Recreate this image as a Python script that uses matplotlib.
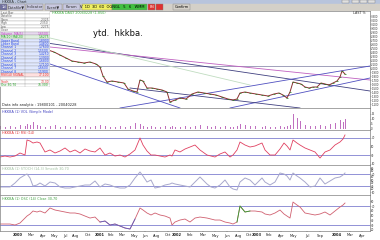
import matplotlib
matplotlib.use("Agg")
import matplotlib.pyplot as plt
from matplotlib.patches import Rectangle

W, H = 380, 240

# ---------------- data ----------------
price_t = [0, 6, 12, 18, 24, 30, 36, 42, 48, 54, 60, 66, 72, 78, 84, 90, 96, 100, 103, 107,
           112, 118, 124, 128, 133, 137, 140, 143, 147, 152, 157, 162, 167, 170, 175, 180,
           186, 192, 198, 204, 210, 216, 222, 228, 233, 237, 240, 245, 250, 256, 262, 268,
           274, 279, 283, 287, 290, 293, 297, 301, 305, 309, 313, 317, 321, 325, 329, 333,
           337, 340, 342, 345]
price_close = [2.650, 2.600, 2.625, 2.550, 2.575, 2.525, 2.550, 2.500, 2.450, 2.400, 2.325,
               2.250, 2.175, 2.150, 2.125, 2.150, 2.100, 2.025, 1.800, 1.650, 1.675, 1.650,
               1.625, 1.475, 1.425, 1.400, 1.700, 1.675, 1.500, 1.500, 1.475, 1.450, 1.400,
               1.150, 1.200, 1.250, 1.225, 1.350, 1.400, 1.375, 1.350, 1.325, 1.275, 1.225,
               1.200, 1.225, 1.375, 1.400, 1.375, 1.350, 1.325, 1.300, 1.350, 1.375, 1.325,
               1.250, 1.400, 1.650, 1.625, 1.600, 1.525, 1.500, 1.525, 1.525, 1.625, 1.600,
               1.575, 1.625, 1.675, 1.775, 1.925, 1.850]

# trend lines: (t0, p0, t1, p1, colour)
trend_lines = [
    (0, 2.800, 370, 1.425, "#404080"),
    (50, 2.525, 370, 1.700, "#c060c0"),
    (50, 2.100, 180, 1.000, "#5050c0"),
    (120, 1.000, 370, 2.050, "#5050c0"),
    (230, 1.000, 370, 1.750, "#5050c0"),
    (130, 1.500, 300, 1.000, "#404080"),
    (50, 2.750, 250, 1.575, "#c0dcc0"),
]
resistance = 2.05

ind_t = [0, 5, 10, 15, 20, 25, 27, 30, 33, 37, 40, 45, 50, 55, 60, 65, 70, 75, 80, 85,
         90, 95, 100, 105, 110, 115, 120, 125, 130, 135, 140, 143, 147, 151, 155, 160, 165,
         170, 172, 175, 180, 185, 190, 195, 200, 207, 211, 215, 220, 225, 230, 233, 237, 240,
         245, 250, 255, 262, 265, 270, 275, 280, 284, 287, 290, 293, 297, 300, 305, 310, 315,
         320, 325, 330, 335, 340, 343, 345]

volume = [3, 2, 3, 2, 4, 3, 5, 4, 7, 4, 3, 2, 3, 4, 2, 3, 2, 3, 2, 3, 2, 3, 4, 3, 2, 2, 3,
          2, 3, 6, 5, 3, 2, 3, 2, 2, 3, 2, 3, 2, 2, 3, 2, 3, 4, 3, 2, 3, 2, 3, 2, 2, 3, 5, 4,
          3, 3, 2, 3, 2, 2, 3, 2, 3, 4, 15, 11, 8, 4, 3, 3, 4, 3, 5, 6, 9, 7, 10]

rsi = [25.3, 27.6, 25.3, 27.6, 34.7, 30.0, 65.3, 62.9, 58.2, 60.6, 58.2, 37.1, 41.8, 34.7,
       39.4, 46.5, 37.1, 41.8, 34.7, 44.1, 39.4, 37.1, 46.5, 30.0, 34.7, 27.6, 30.0, 25.3,
       32.4, 41.8, 70.0, 53.5, 39.4, 30.0, 30.0, 27.6, 25.3, 30.0, 27.6, 41.8, 37.1, 44.1,
       48.8, 53.5, 41.8, 30.0, 27.6, 25.3, 32.4, 37.1, 25.3, 30.0, 41.8, 60.6, 53.5, 48.8,
       51.2, 58.2, 41.8, 30.0, 30.0, 44.1, 58.2, 51.2, 41.8, 65.3, 58.2, 53.5, 46.5, 41.8,
       37.1, 22.9, 37.1, 41.8, 53.5, 60.6, 67.6, 77.1]

stoch = [26.7, 26.7, 26.7, 40.0, 56.7, 66.7, 70.0, 56.7, 30.0, 33.3,
         40.0, 30.0, 43.3, 40.0, 26.7, 23.3, 23.3, 26.7, 30.0, 33.3,
         33.3, 46.7, 26.7, 36.7, 33.3, 26.7, 23.3, 23.3, 33.3, 56.7,
         76.7, 63.3, 43.3, 50.0, 23.3, 26.7, 33.3, 36.7, 40.0, 36.7,
         33.3, 30.0, 26.7, 43.3, 60.0, 36.7, 26.7, 23.3, 33.3, 50.0,
         26.7, 20.0, 16.7, 43.3, 56.7, 50.0, 33.3, 56.7, 43.3, 33.3,
         43.3, 73.3, 70.0, 63.3, 50.0, 73.3, 63.3, 56.7, 43.3, 26.7,
         30.0, 56.7, 36.7, 46.7, 56.7, 60.0, 66.7, 73.3]

osc = [32.1, 32.1, 32.1, 30.0, 34.2, 44.7, 48.9, 53.2, 59.5, 57.4,
       59.5, 55.3, 65.8, 61.6, 59.5, 57.4, 55.3, 55.3, 53.2, 48.9,
       44.7, 46.8, 36.3, 38.4, 30.0, 32.1, 27.9, 23.7, 21.6, 42.6,
       65.8, 61.6, 55.3, 51.1, 55.3, 51.1, 48.9, 44.7, 30.0, 36.3,
       40.5, 42.6, 36.3, 44.7, 46.8, 44.7, 42.6, 40.5, 40.5, 36.3,
       34.2, 32.1, 36.3, 70.0, 57.4, 59.5, 59.5, 57.4, 53.2, 51.1,
       55.3, 61.6, 53.2, 48.9, 44.7, 78.4, 72.1, 67.9, 55.3, 53.2,
       51.1, 53.2, 57.4, 51.1, 59.5, 67.9, 72.1, 76.3]

x_tick_pos = [18, 31, 43, 54, 65, 76, 88, 100, 111, 122, 134, 145, 157, 168, 177, 190,
              203, 215, 227, 239, 249, 257, 269, 281, 293, 307, 320, 337, 350, 362]
x_tick_lab = ["2000", "Mar", "Apr", "May", "Jul", "Aug", "Oct", "2001", "Feb", "Mar", "May",
              "Jun", "Aug", "Oct", "2002", "Feb", "Mar", "May", "Jun", "Aug", "Oct", "2003",
              "Feb", "Apr", "May", "Jul", "Sep", "2004", "Mar", "Apr"]

price_ticks = [1.1, 1.2, 1.3, 1.4, 1.5, 1.6, 1.7, 1.8, 1.9, 2.0, 2.1, 2.2, 2.3, 2.4, 2.5,
               2.6, 2.7, 2.8, 2.9, 3.0, 3.1, 3.2, 3.3]
vol_ticks = [0, 5, 10, 15]
rsi_ticks = [10, 30, 50, 70]
stoch_ticks = [10, 20, 30, 40, 50, 60, 70, 80, 90]
osc_ticks = [20, 30, 40, 50, 60, 70, 80]

table_rows = [
    ("Last Bar", "", "#ffffff", "#606060"),
    ("Datafile", "", "#ffffff", "#606060"),
    ("Open", "2.325", "#ffffff", "#606060"),
    ("High", "2.350", "#ffffff", "#606060"),
    ("Low", "2.275", "#ffffff", "#606060"),
    ("Close", "", "#ffffff", "#606060"),
    ("Volume  MA(5)", "1.6500", "#e8d8f0", "#c040c0"),
    ("MA(10) MA(20)", "1.6275", "#e0f0e0", "#20a020"),
    ("Upper Band", "1.8900", "#e0e8ff", "#2040e0"),
    ("Lower Band", "1.4800", "#e0e8ff", "#2040e0"),
    ("Channel 1", "1.7600", "#e0e8ff", "#2040e0"),
    ("Channel 2", "1.5500", "#e0e8ff", "#2040e0"),
    ("Channel 3", "1.4250", "#e0e8ff", "#2040e0"),
    ("Channel 4", "1.3900", "#e0e8ff", "#2040e0"),
    ("Channel 5", "1.6800", "#e0e8ff", "#2040e0"),
    ("Channel 6", "1.7100", "#e0e8ff", "#2040e0"),
    ("Channel 7", "1.6600", "#e0e8ff", "#2040e0"),
    ("Channel 8", "1.5900", "#e0e8ff", "#2040e0"),
    ("RSI(14) SIGNAL", "77.100", "#ffe0e0", "#e03030"),
    ("", "", "#ffffff", "#20a020"),
    ("Stoch", "73.30", "#ffffff", "#e03030"),
    ("Osc 30,70", "76.300", "#ffffff", "#20a020"),
]

# ---------------- figure ----------------
fig = plt.figure(figsize=(W / 100, H / 100), dpi=100)
fig.patch.set_facecolor("white")


def px_axes(x0, y0, x1, y1):
    return fig.add_axes([x0 / W, 1 - y1 / H, (x1 - x0) / W, (y1 - y0) / H])


def ftext(x, y, s, **kw):
    fig.text(x / W, 1 - y / H, s, **kw)


# toolbar
bar = px_axes(0, 0, 380, 11)
bar.set_xlim(0, 380)
bar.set_ylim(11, 0)
bar.axis("off")
bar.add_patch(Rectangle((0, 0), 380, 3.5, color="#b8c4dc"))
bar.add_patch(Rectangle((0, 3.5), 380, 7.5, color="#d4d0c8"))
buttons = [(0, 7, "1d", "#7070a0", "white"), (7.5, 25, "Datafile▼", "#c8c8e0", "#303030"),
           (26, 43, "Indicator", "#c8c8e0", "#303030"), (45, 62, "Event▼", "#c8c8e0", "#303030"),
           (63, 80, "Param", "#c8c8e0", "#303030")]
for x0, x1, s, fc, tc in buttons:
    bar.add_patch(Rectangle((x0, 4.2), x1 - x0, 5.8, fc=fc, ec="#808080", lw=0.3))
    bar.text((x0 + x1) / 2, 7.2, s, fontsize=2.6, ha="center", va="center", color=tc)
bar.add_patch(Rectangle((82, 4.2), 30, 5.8, fc="#f0f060", ec="#808080", lw=0.3))
bar.text(97, 7.2, "V  1D  3D  6D  OGN", fontsize=2.6, ha="center", va="center")
bar.add_patch(Rectangle((112, 4.2), 35, 5.8, fc="#40c040", ec="#808080", lw=0.3))
bar.text(129.5, 7.2, "GL   5   6   WMM", fontsize=2.6, ha="center", va="center")
bar.add_patch(Rectangle((148, 4.2), 7, 5.8, fc="#e03030", ec="#808080", lw=0.3))
bar.add_patch(Rectangle((156, 4.2), 7, 5.8, fc="#e03030", ec="#808080", lw=0.3))
bar.text(151.5, 7.2, "EN", fontsize=2.4, ha="center", va="center", color="white")
bar.add_patch(Rectangle((173, 4.2), 17, 5.8, fc="#d4d0c8", ec="#808080", lw=0.3))
bar.text(181.5, 7.2, "Confirm", fontsize=2.6, ha="center", va="center")
for x0 in (342, 352, 360, 368):
    bar.add_patch(Rectangle((x0, 0.3), 7, 3, fc="#e0e0e0", ec="#808080", lw=0.3))
bar.text(2, 1.7, "HKKBA - Chart", fontsize=2.4, va="center", color="#303030")

# ---------- main price panel ----------
ax = px_axes(0, 11, 370, 108)
ax.set_xlim(0, 370)
ax.set_ylim(1.0, 3.425)
ax.axhline(resistance, color="#9090b0", lw=0.6)
for t0, p0, t1, p1, c in trend_lines:
    ax.plot([t0, t1], [p0, p1], color=c, lw=0.6)
ax.plot(price_t, price_close, color="#8a3030", lw=0.7)
ax.plot(price_t, price_close, ls="none", marker="_", ms=1.5, mew=0.5, color="#208020")

# ---------- volume ----------
axv = px_axes(0, 108, 370, 130)
axv.set_xlim(0, 370)
axv.set_ylim(-1.5, 20.5)
axv.bar(ind_t, volume, width=1.0, color="#c070c0")

# ---------- RSI ----------
axr = px_axes(0, 130, 370, 165)
axr.set_xlim(0, 370)
axr.set_ylim(6.5, 88.8)
for lv in (70, 30):
    axr.axhline(lv, color="#8080d0", lw=0.6)
axr.plot(ind_t, rsi, color="#e04060", lw=0.6)

# ---------- stochastic ----------
axs = px_axes(0, 165, 370, 195)
axs.set_xlim(0, 370)
axs.set_ylim(0, 100)
for lv in (70, 30):
    axs.axhline(lv, color="#8080d0", lw=0.6)
axs.plot(ind_t, stoch, color="#a8a8cc", lw=0.7)

# ---------- oscillator ----------
axo = px_axes(0, 195, 370, 231)
axo.set_xlim(0, 370)
axo.set_ylim(17.4, 93.2)
for lv in (70, 30):
    axo.axhline(lv, color="#8080d0", lw=0.6)
axo.plot(ind_t, osc, color="#d06070", lw=0.6)
axo.plot(ind_t[52:56], osc[52:56], color="#30a030", lw=0.6)
axo.plot(ind_t[22:30], osc[22:30], color="#6060c0", lw=0.6)

# axes styling
for a, ticks, fmt in ((ax, price_ticks, "{:.3f}"),
                      (axv, vol_ticks, "{:.0f}"),
                      (axr, rsi_ticks, "{:.0f}"),
                      (axs, stoch_ticks, "{:.0f}"),
                      (axo, osc_ticks, "{:.0f}")):
    a.set_facecolor("white")
    for sp in a.spines.values():
        sp.set_color("#808080")
        sp.set_linewidth(0.5)
    a.yaxis.tick_right()
    a.set_yticks(ticks)
    a.set_yticklabels([fmt.format(v) for v in ticks])
    a.tick_params(axis="y", labelsize=1.9, length=0.6, width=0.3, pad=0.3, colors="#303030")
    if a is not axo:
        a.set_xticks([])

axo.set_xticks(x_tick_pos)
axo.set_xticklabels(x_tick_lab)
axo.tick_params(axis="x", labelsize=2.6, length=1, width=0.3, pad=0.8, colors="#202020")
for lab in axo.get_xticklabels():
    if lab.get_text().isdigit():
        lab.set_fontweight("bold")

# ---------- left info table ----------
tb = px_axes(0, 11, 50, 87)
tb.set_xlim(0, 50)
tb.set_ylim(len(table_rows), 0)
tb.axis("off")
for i, (lab, val, bg, tc) in enumerate(table_rows):
    tb.add_patch(Rectangle((0, i), 50, 1, fc=bg, ec="#a0a0a0", lw=0.25))
    tb.plot([25, 25], [i, i + 1], color="#a0a0a0", lw=0.25)
    tb.text(1, i + 0.55, lab, fontsize=2.2, va="center", color=tc)
    tb.text(49, i + 0.55, val, fontsize=2.2, va="center", ha="right", color=tc)

# ---------- labels ----------
ftext(52, 13.5, "HKKBA DAILY 20040228 (1.850)", fontsize=2.4, color="#40b040", va="center")
ftext(118, 33, "ytd.  hkkba.", fontsize=6, ha="center", va="center", color="#101010")
ftext(366, 13.5, "LAST %", fontsize=2.4, ha="right", va="center", color="#303030")
ftext(2, 105, "Data info analytic : 19800101 - 20040228", fontsize=2.5, va="center", color="#202020")
ftext(2, 111.5, "HKKBA (1) VOL (Simple Mode)", fontsize=2.4, va="center", color="#4040c0")
ftext(2, 133.5, "HKKBA (1) RSI (14)", fontsize=2.4, va="center", color="#e03030")
ftext(2, 168.5, "HKKBA (1) STOCH (14,3) Smooth 30,70", fontsize=2.4, va="center", color="#a0c0a0")
ftext(2, 199, "HKKBA (1) OSC (14) Close 30,70", fontsize=2.4, va="center", color="#40a040")

fig.savefig("out.png", dpi=100, facecolor=fig.get_facecolor())
